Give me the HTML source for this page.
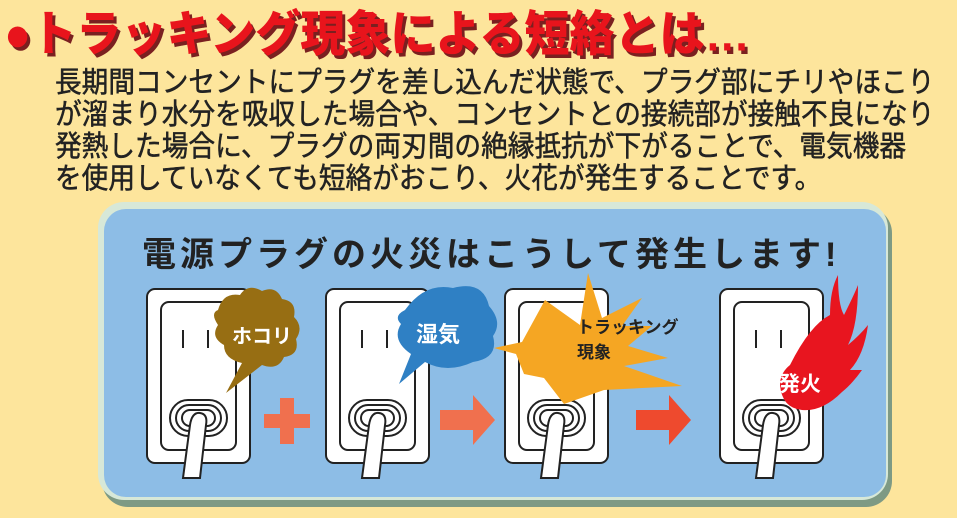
<!DOCTYPE html>
<html><head><meta charset="utf-8"><style>
html,body{margin:0;padding:0;}
body{width:957px;height:518px;background:#fde59c;overflow:hidden;position:relative;font-family:"Liberation Sans","Noto Sans CJK JP",sans-serif;}
.h{position:absolute;left:4px;top:-4px;font-size:46px;font-weight:900;color:#e8141c;white-space:nowrap;letter-spacing:0px;text-shadow:3px 3px 0 #7a2020;transform-origin:0 0;transform:scale(0.98,1.05);}
.p{position:absolute;left:55px;top:64px;font-size:29px;line-height:32px;color:#222;white-space:nowrap;letter-spacing:0px;font-weight:normal;-webkit-text-stroke:0.5px #222;transform-origin:0 0;transform:scale(0.92,1);font-family:"Noto Sans CJK JP",sans-serif;}
svg{position:absolute;left:0;top:0;}
</style></head><body>
<div class="h">●トラッキング現象による短絡とは…</div>
<div class="p">長期間コンセントにプラグを差し込んだ状態で、プラグ部にチリやほこり<br>が溜まり水分を吸収した場合や、コンセントとの接続部が接触不良になり<br>発熱した場合に、プラグの両刃間の絶縁抵抗が下がることで、電気機器<br>を使用していなくても短絡がおこり、火花が発生することです。</div>
<svg width="957" height="518" viewBox="0 0 957 518">
<rect x="102" y="207" width="790" height="300" rx="26" fill="#7e9a84"/>
<rect x="98" y="202" width="790" height="298" rx="26" fill="#d7e8d8"/>
<rect x="104" y="209" width="782" height="288" rx="22" fill="#8dbde6"/>
<text x="142" y="266" font-size="34" font-weight="bold" fill="#222" font-family="Liberation Sans,Noto Sans CJK JP,sans-serif" letter-spacing="4">電源プラグの火災はこうして発生します!</text>
<g id="o" stroke="#222" stroke-width="2" fill="#fff">
<rect x="147" y="289" width="103" height="174" rx="8"/>
<rect x="161" y="302" width="75" height="148" rx="8"/>
<line x1="183" y1="330" x2="183" y2="348"/><line x1="208" y1="330" x2="208" y2="348"/>
<rect x="170" y="400" width="57" height="36" rx="18"/>
<rect x="176" y="405" width="45" height="26" rx="13"/>
<rect x="182" y="410" width="33" height="16" rx="8"/>
<path d="M190 425 Q192 412 200 413 Q208 414 206 425 L200 478 L183 478 Z"/>
</g>
<use href="#o" x="179"/>
<use href="#o" x="358"/>
<use href="#o" x="573"/>
<path d="M218 310 q5-18 22-15 q8-12 22-4 q14-6 20 8 q15 2 12 18 q10 10 2 22 q4 16-12 18 q-6 14-22 8 l-36 28 l16-30 q-18-4-18-18 q-14-8-6-20 q-8-12 0-15z" fill="#976e13"/>
<text x="232" y="343" font-size="20" font-weight="bold" fill="#fff" font-family="Noto Sans CJK JP,sans-serif">ホコリ</text>
<path d="M405 310 q20-28 48-22 q30-8 36 18 q14 16 4 30 q6 22-20 26 q-26 12-48 0 l-26 22 l12-30 q-20-14-10-30 q-8-8 4-14z" fill="#2f80c4"/>
<text x="416" y="342" font-size="22" font-weight="bold" fill="#fff" font-family="Noto Sans CJK JP,sans-serif">湿気</text>
<path d="M545 300 l35 25 l8-52 l14 45 l40-20 l-20 28 l30 0 l-24 20 l40 12 l-44 8 l58 20 l-78 4 l-40 14 l-20-26 l-20 -4 l-8-20 l-22-6 l28-6 z" fill="#f5a623"/>
<text x="577" y="333" font-size="17" font-weight="bold" fill="#222" font-family="Noto Sans CJK JP,sans-serif">トラッキング</text>
<text x="577" y="358" font-size="17" font-weight="bold" fill="#222" font-family="Noto Sans CJK JP,sans-serif">現象</text>
<path d="M790 365 q20-40 40-50 q0-25 8-40 q0 30 6 40 q10-20 14-30 q0 40-10 60 q12-10 20-20 q-4 30-18 45 l12 0 q-10 14-20 22 q-20 20-40 18 q-20-2-22-25 q0-12 10-20z" fill="#e8151f"/>
<text x="779" y="391" font-size="21" font-weight="bold" fill="#fff" font-family="Noto Sans CJK JP,sans-serif">発火</text>
<path d="M280 398 h14 v16 h16 v14 h-16 v16 h-14 v-16 h-16 v-14 h16z" fill="#f0704e"/>
<path d="M440 410 h33 v-15 l22 25 l-22 25 v-15 h-33z" fill="#f0704e"/>
<path d="M636 410 h33 v-15 l22 25 l-22 25 v-15 h-33z" fill="#ee4a2e"/>
</svg>
</body></html>
